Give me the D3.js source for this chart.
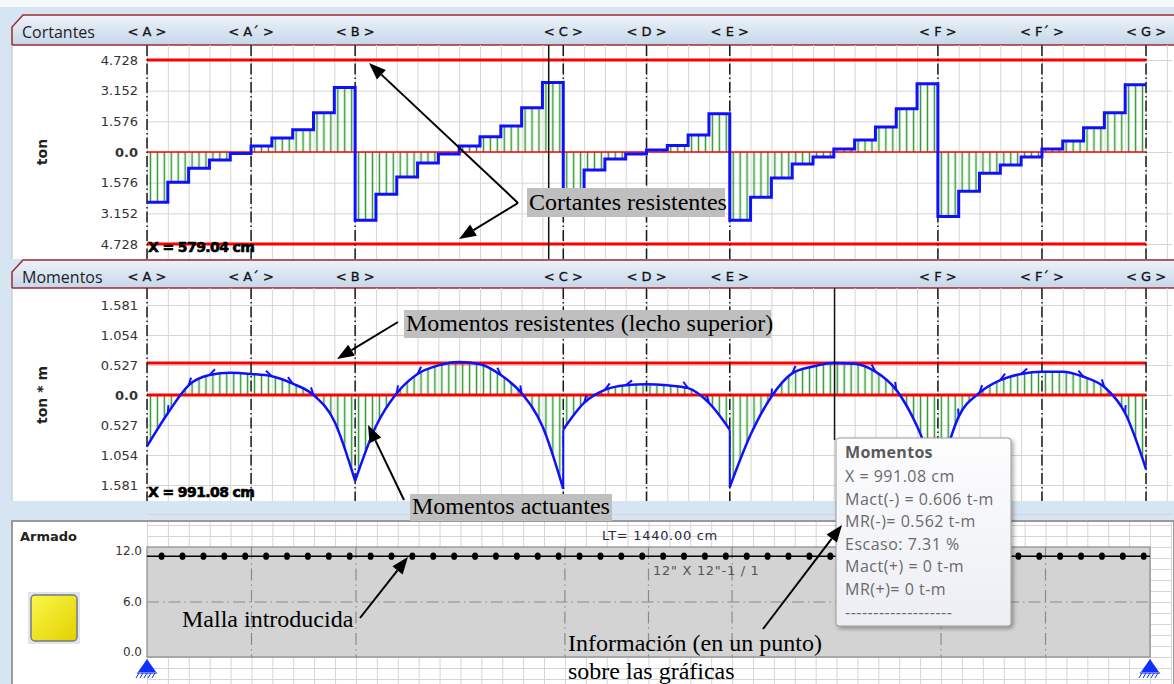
<!DOCTYPE html>
<html>
<head>
<meta charset="utf-8">
<script src="https://cdn.jsdelivr.net/npm/d3@7"></script>
<style>
  body { margin: 0; background: #fff; }
  svg { display: block; font-family: "DejaVu Sans", sans-serif; }
</style>
</head>
<body>
<svg id="chart" width="1174" height="684"></svg>
<script>
// ---- data ----
const supportLabels = ["A", "A´", "B", "C", "D", "E", "F", "F´", "G"];
const supportPos = [0, 150, 300, 600, 720, 840, 1140, 1290, 1440]; // cm
const beamLength = 1440;
const stepWidth = 30; // one shear step every 30 cm

// shear (ton), one value per step, A -> G
const shearValues = [
  -2.58, -1.55, -0.83, -0.41, -0.08, 0.31, 0.72, 1.14, 2.02, 3.31,
  -3.51, -2.17, -1.29, -0.57, -0.10, 0.31, 0.78, 1.34, 2.27, 3.57,
  -1.96, -0.93, -0.36, -0.10, 0.10, 0.33, 0.88, 1.96,
  -3.51, -2.33, -1.34, -0.62, -0.26, 0.15, 0.62, 1.29, 2.22, 3.51,
  -3.31, -2.02, -1.09, -0.67, -0.26, 0.15, 0.57, 1.24, 2.02, 3.46
];
const shearTicks = [4.728, 3.152, 1.576, 0, -1.576, -3.152, -4.728];
const shearResist = [4.728, -4.728];

// moments (ton*m); a station is repeated where the diagram jumps
const momentX = [
  0, 30, 60, 90, 120, 150, 180, 210, 240, 270, 300, 330, 360, 390, 420, 450, 480, 510, 540, 570, 600,
  600, 630, 660, 690, 720, 750, 780, 810, 840,
  840, 870, 900, 930, 960, 990, 1020, 1050, 1080, 1110, 1140, 1170, 1200, 1230, 1260, 1290, 1320, 1350, 1380, 1410, 1440
];
const momentValues = [
  -0.90, -0.32, 0.17, 0.35, 0.39, 0.37, 0.33, 0.20, 0.00, -0.46, -1.51, -0.55, 0.03, 0.37, 0.52, 0.58, 0.54, 0.35, 0.03, -0.55, -1.65,
  -0.61, -0.14, 0.09, 0.17, 0.19, 0.17, 0.12, -0.14, -0.61,
  -1.62, -0.70, -0.03, 0.38, 0.50, 0.56, 0.55, 0.41, 0.09, -0.55, -1.51, -0.38, 0.04, 0.26, 0.37, 0.41, 0.41, 0.32, 0.14, -0.32, -1.30
];
const momentTicks = [1.581, 1.054, 0.527, 0, -0.527, -1.054, -1.581];
const momentResist = [0.562, 0];

// armado (reinforcement)
const armadoTicks = [12, 6, 0];
const barLevel = 11;
const barFirst = 21, barSpacing = 30, barCount = 48;

const tooltipLines = ["X = 991.08 cm", "Mact(-) = 0.606 t-m", "MR(-)= 0.562 t-m", "Escaso: 7.31 %",
  "Mact(+) = 0 t-m", "MR(+)= 0 t-m", "-------------------"];

// ---- setup ----
const svg = d3.select("#chart");
const defs = svg.append("defs");
const RIGHT = 1172;

const x = d3.scaleLinear().domain([0, beamLength]).range([147, 1146]);
const xa = d3.scaleLinear().domain([0, beamLength]).range([147, 1150]);
const gridStations = d3.range(0, beamLength + 31, 30);

const hdr = defs.append("linearGradient").attr("id", "hdr").attr("x1", 0).attr("y1", 0).attr("x2", 0).attr("y2", 1);
hdr.append("stop").attr("offset", "0%").attr("stop-color", "#edf3f9");
hdr.append("stop").attr("offset", "100%").attr("stop-color", "#c6d7ea");

const yel = defs.append("linearGradient").attr("id", "yel").attr("x1", 0).attr("y1", 0).attr("x2", 1).attr("y2", 1);
yel.append("stop").attr("offset", "0%").attr("stop-color", "#fbf84a");
yel.append("stop").attr("offset", "100%").attr("stop-color", "#e2d000");

const tip = defs.append("linearGradient").attr("id", "tipbg").attr("x1", 0).attr("y1", 0).attr("x2", 0).attr("y2", 1);
tip.append("stop").attr("offset", "0%").attr("stop-color", "#fdfdfe");
tip.append("stop").attr("offset", "100%").attr("stop-color", "#eceef4");

const shadow = defs.append("filter").attr("id", "shadow").attr("x", "-10%").attr("y", "-10%").attr("width", "130%").attr("height", "130%");
shadow.append("feDropShadow").attr("dx", 2).attr("dy", 2).attr("stdDeviation", 2).attr("flood-opacity", 0.35);

// green vertical hatch every 10 cm
const hw = x(10) - x(0);
const pat = defs.append("pattern").attr("id", "hatch").attr("patternUnits", "userSpaceOnUse")
  .attr("x", x(0)).attr("y", 0).attr("width", hw).attr("height", 10);
pat.append("line").attr("x1", hw / 2).attr("x2", hw / 2).attr("y1", 0).attr("y2", 10)
  .attr("stroke", "#2f9a2f").attr("stroke-width", 1.5);

// background
svg.append("rect").attr("width", 1174).attr("height", 684).attr("fill", "#d7e4f2");
svg.append("rect").attr("width", 1174).attr("height", 7).attr("fill", "#f6f9fc");

const panels = [
  { title: "Cortantes", top: 15, plotTop: 45, plotBottom: 259, unit: "ton",
    y: d3.scaleLinear().domain([-4.728, 4.728]).range([244, 60]), ticks: shearTicks },
  { title: "Momentos", top: 260, plotTop: 288, plotBottom: 501, unit: "ton * m",
    y: d3.scaleLinear().domain([-1.581, 1.581]).range([485, 305]), ticks: momentTicks }
];

function drawFrame(p) {
  const g = svg.append("g");
  g.append("rect").attr("x", 12).attr("y", p.plotTop).attr("width", 1174 - 12)
    .attr("height", p.plotBottom - p.plotTop).attr("fill", "#fff");
  g.append("line").attr("x1", 12).attr("x2", 12).attr("y1", p.plotTop).attr("y2", p.plotBottom)
    .attr("stroke", "#b8c4d0");

  // header band with tab
  g.append("path")
    .attr("d", `M12,${p.plotTop} L12,${p.top + 12} L23,${p.top} L1174,${p.top} L1174,${p.plotTop} Z`)
    .attr("fill", "url(#hdr)");
  g.append("path")
    .attr("d", `M12,${p.plotTop} L12,${p.top + 12} L23,${p.top} L1174,${p.top}`)
    .attr("fill", "none").attr("stroke", "#9c2a33").attr("stroke-width", 1.5);
  g.append("line").attr("x1", 12).attr("x2", 1174).attr("y1", p.plotTop).attr("y2", p.plotTop)
    .attr("stroke", "#9c2a33").attr("stroke-width", 1.5);
  g.append("text").attr("x", 22).attr("y", p.top + 23).text(p.title)
    .style("font-family", "'Open Sans', sans-serif").style("font-size", "16px").attr("fill", "#1e1e1e");
  g.selectAll(".slab").data(supportPos).join("text")
    .attr("x", d => x(d)).attr("y", p.top + 21).attr("text-anchor", "middle")
    .style("font-size", "13px").attr("fill", "#111").attr("stroke", "#111").attr("stroke-width", 0.3)
    .text((d, i) => `< ${supportLabels[i]} >`);

  // grid
  g.append("g").attr("transform", `translate(0,${p.plotTop})`)
    .call(d3.axisBottom(x).tickValues(gridStations).tickSize(p.plotBottom - p.plotTop).tickFormat(""))
    .call(a => a.select(".domain").remove())
    .selectAll("line").attr("stroke", "#d5d5d5");
  g.append("g").attr("transform", `translate(${x(0)},0)`)
    .call(d3.axisRight(p.y).tickValues(p.ticks).tickSize(RIGHT - x(0)).tickFormat(""))
    .call(a => a.select(".domain").remove())
    .selectAll("line").attr("stroke", "#d5d5d5");

  // tick labels
  const ax = g.append("g").attr("transform", `translate(${x(0)},0)`)
    .call(d3.axisLeft(p.y).tickValues(p.ticks).tickSize(0).tickPadding(9)
      .tickFormat(d => d === 0 ? "0.0" : Math.abs(d).toFixed(3)));
  ax.select(".domain").remove();
  ax.selectAll("text").style("font-family", "'DejaVu Sans', sans-serif").style("font-size", "13px")
    .attr("fill", "#333").style("font-weight", d => d === 0 ? "bold" : "normal");

  g.append("text").attr("transform", `translate(47,${(p.y(p.ticks[0]) + p.y(p.ticks[p.ticks.length - 1])) / 2}) rotate(-90)`)
    .attr("text-anchor", "middle").style("font-size", "14px").style("font-weight", "bold")
    .attr("fill", "#222").text(p.unit);
  return g;
}

function supportLines(p) {
  svg.append("g").selectAll("line").data(supportPos).join("line")
    .attr("x1", d => x(d)).attr("x2", d => x(d))
    .attr("y1", p.plotTop).attr("y2", p.plotBottom)
    .attr("stroke", "#1a1a1a").attr("stroke-width", 1.5).attr("stroke-dasharray", "11,3,1.5,3");
}

function redLine(p, v, w) {
  svg.append("line").attr("x1", x(0)).attr("x2", x(beamLength))
    .attr("y1", p.y(v)).attr("y2", p.y(v)).attr("stroke", "#ff0000").attr("stroke-width", w);
}

// ---- Cortantes ----
const pS = panels[0];
drawFrame(pS);
const shearPts = shearValues.map((v, i) => ({ s: i * stepWidth, v }));
shearPts.push({ s: beamLength, v: shearValues[shearValues.length - 1] });
svg.append("path").datum(shearPts)
  .attr("d", d3.area().curve(d3.curveStepAfter).x(d => x(d.s)).y0(pS.y(0)).y1(d => pS.y(d.v)))
  .attr("fill", "url(#hatch)");
redLine(pS, 0, 1.5);
shearResist.forEach(v => redLine(pS, v, 3));
supportLines(pS);
svg.append("path").datum(shearPts)
  .attr("d", d3.line().curve(d3.curveStepAfter).x(d => x(d.s)).y(d => pS.y(d.v)))
  .attr("fill", "none").attr("stroke", "#1010ff").attr("stroke-width", 3);
svg.append("line").attr("x1", x(579.04)).attr("x2", x(579.04)).attr("y1", pS.plotTop).attr("y2", pS.plotBottom)
  .attr("stroke", "#111").attr("stroke-width", 1.5);
svg.append("text").attr("x", 148).attr("y", 252).text("X = 579.04 cm")
  .style("font-size", "14px").style("font-weight", "bold").style("letter-spacing", "-0.6px")
  .attr("fill", "#000").attr("stroke", "#000").attr("stroke-width", 0.6);

// ---- Momentos ----
const pM = panels[1];
drawFrame(pM);
const momentPts = momentX.map((s, i) => ({ s, v: momentValues[i] }));
// split into pieces at jumps and at hogging cusps over the supports
const momentSegs = [];
let cur = [];
momentPts.forEach((d, i) => {
  const prev = momentPts[i - 1], next = momentPts[i + 1];
  if (prev && prev.s === d.s) { momentSegs.push(cur); cur = []; }
  cur.push(d);
  if (prev && next && prev.s !== d.s && next.s !== d.s && d.v < prev.v && d.v < next.v) {
    momentSegs.push(cur); cur = [d];
  }
});
momentSegs.push(cur);

const mArea = d3.area().curve(d3.curveMonotoneX).x(d => x(d.s)).y0(pM.y(0)).y1(d => pM.y(d.v));
const mLine = d3.line().curve(d3.curveMonotoneX).x(d => x(d.s)).y(d => pM.y(d.v));
svg.append("g").selectAll("path").data(momentSegs).join("path").attr("d", mArea).attr("fill", "url(#hatch)");
momentResist.forEach(v => redLine(pM, v, 3));
supportLines(pM);
const jumpPairs = d3.pairs(momentPts).filter(([a, b]) => a.s === b.s);
svg.append("g").selectAll("line").data(jumpPairs).join("line")
  .attr("x1", d => x(d[0].s)).attr("x2", d => x(d[1].s))
  .attr("y1", d => pM.y(d[0].v)).attr("y2", d => pM.y(d[1].v))
  .attr("stroke", "#1010ff").attr("stroke-width", 2);
svg.append("g").selectAll("path").data(momentSegs).join("path").attr("d", mLine)
  .attr("fill", "none").attr("stroke", "#1010ff").attr("stroke-width", 2.5);

// small barbs along the envelope (downhill direction), as in the program output
const barbs = [];
momentSegs.forEach(seg => {
  for (let i = 1; i < seg.length - 1; i++) {
    const a = seg[i - 1], b = seg[i], c = seg[i + 1];
    if (Math.abs(c.v - a.v) < 0.1 || Math.abs(b.v) > 0.45) continue;
    let dx = x(c.s) - x(a.s), dy = pM.y(c.v) - pM.y(a.v);
    if (c.v > a.v) { dx = -dx; dy = -dy; }
    const len = Math.hypot(dx, dy);
    barbs.push({ px: x(b.s), py: pM.y(b.v), ux: dx / len, uy: dy / len });
  }
});
svg.append("g").selectAll("path").data(barbs).join("path")
  .attr("d", d => {
    let nx = -d.uy, ny = d.ux;
    if (ny > 0) { nx = -nx; ny = -ny; }
    return `M${d.px},${d.py} L${d.px - 7 * d.ux + 4 * nx},${d.py - 7 * d.uy + 4 * ny}`;
  })
  .attr("stroke", "#1010ff").attr("stroke-width", 2).attr("fill", "none");

svg.append("line").attr("x1", x(991.08)).attr("x2", x(991.08)).attr("y1", pM.plotTop).attr("y2", 440)
  .attr("stroke", "#111").attr("stroke-width", 1.5);
svg.append("text").attr("x", 148).attr("y", 497).text("X = 991.08 cm")
  .style("font-size", "14px").style("font-weight", "bold").style("letter-spacing", "-0.6px")
  .attr("fill", "#000").attr("stroke", "#000").attr("stroke-width", 0.6);

// ---- Armado ----
const yA = d3.scaleLinear().domain([0, 12]).range([657, 547]);
const yAlabel = d3.scaleLinear().domain([0, 12]).range([652, 551]);
const arm = svg.append("g");
arm.append("rect").attr("x", 12).attr("y", 521).attr("width", 1174 - 12).attr("height", 170)
  .attr("fill", "#fff").attr("stroke", "#9a9a9a").attr("stroke-width", 2);
arm.append("g").attr("transform", "translate(0,522)")
  .call(d3.axisBottom(xa).tickValues(gridStations).tickSize(684 - 522).tickFormat(""))
  .call(a => a.select(".domain").remove())
  .selectAll("line").attr("stroke", "#d5d5d5");
arm.append("g").attr("transform", `translate(${xa(0)},0)`)
  .call(d3.axisRight(yA).tickValues(d3.range(-2, 14).map(k => k * 1.2)).tickSize(RIGHT - xa(0)).tickFormat(""))
  .call(a => a.select(".domain").remove())
  .selectAll("line").attr("stroke", "#d5d5d5");
arm.append("text").attr("x", 20).attr("y", 541).text("Armado")
  .style("font-size", "13px").style("font-weight", "bold").attr("fill", "#222");
// colour swatch
arm.append("rect").attr("x", 28).attr("y", 592).attr("width", 52).attr("height", 52).attr("fill", "#dde6f0");
arm.append("rect").attr("x", 31).attr("y", 595).attr("width", 46).attr("height", 46).attr("rx", 4)
  .attr("fill", "url(#yel)").attr("stroke", "#7a7a7a").attr("stroke-width", 1.5);
// beam
arm.append("rect").attr("x", xa(0)).attr("y", yA(12)).attr("width", xa(beamLength) - xa(0))
  .attr("height", yA(0) - yA(12)).attr("fill", "#d3d3d3").attr("stroke", "#8a8a8a").attr("stroke-width", 1.2);
arm.append("g").selectAll("line").data(supportPos.slice(1, -1)).join("line")
  .attr("x1", d => xa(d)).attr("x2", d => xa(d)).attr("y1", yA(12)).attr("y2", yA(0))
  .attr("stroke", "#8a8a8a").attr("stroke-width", 1.2).attr("stroke-dasharray", "12,4,1.5,4");
arm.append("line").attr("x1", xa(0)).attr("x2", xa(beamLength)).attr("y1", yA(6)).attr("y2", yA(6))
  .attr("stroke", "#8a8a8a").attr("stroke-width", 1.2).attr("stroke-dasharray", "12,4,1.5,4");
const ayAxis = arm.append("g").attr("transform", `translate(${xa(0)},0)`)
  .call(d3.axisLeft(yAlabel).tickValues(armadoTicks).tickSize(0).tickPadding(5).tickFormat(d3.format(".1f")));
ayAxis.select(".domain").remove();
ayAxis.selectAll("text").style("font-family", "'DejaVu Sans', sans-serif").style("font-size", "12px").attr("fill", "#333");
// bar with stirrup dots
arm.append("line").attr("x1", xa(0)).attr("x2", xa(beamLength)).attr("y1", yA(barLevel)).attr("y2", yA(barLevel))
  .attr("stroke", "#000").attr("stroke-width", 1.5);
const barDots = d3.range(barCount).map(i => barFirst + i * barSpacing);
arm.append("g").selectAll("ellipse").data(barDots).join("ellipse")
  .attr("cx", d => xa(d)).attr("cy", yA(barLevel)).attr("rx", 3).attr("ry", 3.6).attr("fill", "#000");
arm.append("text").attr("x", 602).attr("y", 540).text("LT= 1440.00 cm")
  .style("font-size", "13px").style("letter-spacing", "0.7px").attr("fill", "#2a2a3a");
arm.append("text").attr("x", 653).attr("y", 575).text("12\" X 12\"-1 / 1")
  .style("font-size", "13px").style("letter-spacing", "0.7px").attr("fill", "#555");
// supports
[0, beamLength].forEach(s => {
  const cx = xa(s);
  arm.append("path").attr("d", `M${cx},${yA(0) + 2} L${cx - 9},${yA(0) + 15} L${cx + 9},${yA(0) + 15} Z`)
    .attr("fill", "#1030ff");
  arm.append("line").attr("x1", cx - 10).attr("x2", cx + 10).attr("y1", yA(0) + 16).attr("y2", yA(0) + 16)
    .attr("stroke", "#1030ff").attr("stroke-width", 1.2);
  d3.range(5).forEach(k => {
    arm.append("line").attr("x1", cx - 8 + k * 4).attr("x2", cx - 11 + k * 4)
      .attr("y1", yA(0) + 16).attr("y2", yA(0) + 21).attr("stroke", "#1030ff").attr("stroke-width", 1);
  });
});

// ---- tooltip ----
const tg = svg.append("g").attr("transform", "translate(836,438)");
tg.append("rect").attr("width", 175).attr("height", 188).attr("rx", 3)
  .attr("fill", "url(#tipbg)").attr("stroke", "#9a9a9a").attr("filter", "url(#shadow)");
tg.append("text").attr("x", 9).attr("y", 20).text("Momentos")
  .style("font-family", "'Open Sans', sans-serif").style("font-size", "16px").style("font-weight", "bold")
  .style("letter-spacing", "0.3px").attr("fill", "#5a5a5a");
tg.selectAll(".tl").data(tooltipLines).join("text")
  .attr("x", 9).attr("y", (d, i) => 44 + i * 22.6).text(d => d)
  .style("font-family", "'Open Sans', sans-serif").style("font-size", "16px").style("letter-spacing", "0.5px")
  .attr("fill", "#6a6a6a");

// ---- annotations ----
const notes = svg.append("g").style("font-family", "'Liberation Serif', 'Times New Roman', serif").style("font-size", "24px");
function label(x0, y0, w, h, txt, box) {
  if (box) notes.append("rect").attr("x", x0).attr("y", y0).attr("width", w).attr("height", h).attr("fill", "#bfbfbf");
  notes.append("text").attr("x", x0 + 2).attr("y", y0 + h - 7).attr("fill", "#000").text(txt);
}
function arrow(x1, y1, x2, y2) {
  const a = Math.atan2(y2 - y1, x2 - x1), L = 17, hw2 = 6.5;
  const bx = x2 - L * Math.cos(a), by = y2 - L * Math.sin(a);
  notes.append("line").attr("x1", x1).attr("y1", y1).attr("x2", bx).attr("y2", by)
    .attr("stroke", "#000").attr("stroke-width", 2);
  notes.append("path").attr("d", `M${x2},${y2} L${bx + hw2 * Math.sin(a)},${by - hw2 * Math.cos(a)} L${bx - hw2 * Math.sin(a)},${by + hw2 * Math.cos(a)} Z`)
    .attr("fill", "#000");
}
label(527, 188, 198, 29, "Cortantes resistentes", true);
arrow(518, 203, 369, 63);
arrow(518, 203, 459, 239);
label(404, 310, 367, 28, "Momentos resistentes (lecho superior)", true);
arrow(398, 322, 337, 359);
label(410, 494, 202, 27, "Momentos actuantes", true);
arrow(404, 500, 368, 425);
label(180, 604, 180, 30, "Malla introducida", false);
arrow(360, 618, 408, 557);
label(566, 630, 260, 28, "Información (en un punto)", false);
label(566, 658, 200, 28, "sobre las gráficas", false);
arrow(763, 629, 842, 525);
</script>
</body>
</html>
